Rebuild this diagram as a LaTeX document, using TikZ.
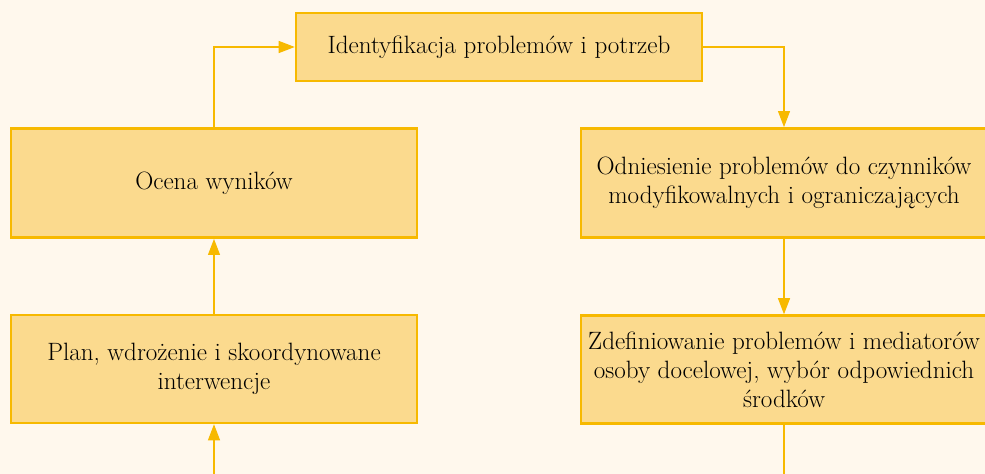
\documentclass[tikz,border=0pt]{standalone}
\usepackage{tikz}
\usetikzlibrary{%
arrows.meta,
positioning
}
\definecolor{bgcream}{RGB}{255,248,237}
\definecolor{boxfill}{RGB}{251,218,142}
\definecolor{boxline}{RGB}{247,185,0}
\tikzset{
    stage/.style={draw=boxline, line width=1.9pt, fill=boxfill,
        minimum width=304.5pt, minimum height=82pt, align=center,
        inner sep=2pt, font=\fontsize{18.8}{21.8}\selectfont},
    flow/.style={draw=boxline, line width=0.8pt,
        -{Triangle[length=12pt,width=9pt]}}
}
\begin{document}
\begin{tikzpicture}[x=0.75pt,y=-0.75pt]
    % page with the cream background
    \fill[bgcream] (0,0) rectangle (985,474);
    \useasboundingbox (0,0) rectangle (985,474);
    \clip (0,0) rectangle (985,474);
    % the five stages
    \node[stage, minimum height=51pt] (ident) at (499,47) {Identyfikacja problemów i potrzeb};
    \node[stage] (ocena) at (214,183) {Ocena wyników};
    \node[stage] (odn) at (784,183) {Odniesienie problemów do czynników\\modyfikowalnych i ograniczających};
    \node[stage, minimum height=81pt] (plan) at (214,369) {Plan, wdrożenie i skoordynowane\\interwencje};
    \node[stage, minimum height=81pt] (zdef) at (784,369.5) {Zdefiniowanie problemów i mediatorów\\osoby docelowej, wybór odpowiednich\\środków};
    % loose ends below the picture
    \coordinate (inL) at (214,480);
    \coordinate (outR) at (784,480);
    % connectors
    \draw[flow] (ocena.north) |- (ident.west);
    \draw[flow] (ident.east) -| (odn.north);
    \draw[flow] (odn) -- (zdef);
    \draw[flow] (plan) -- (ocena);
    \draw[flow] (inL) -- (plan);
    \draw[flow, -] (zdef) -- (outR);
\end{tikzpicture}
\end{document}
